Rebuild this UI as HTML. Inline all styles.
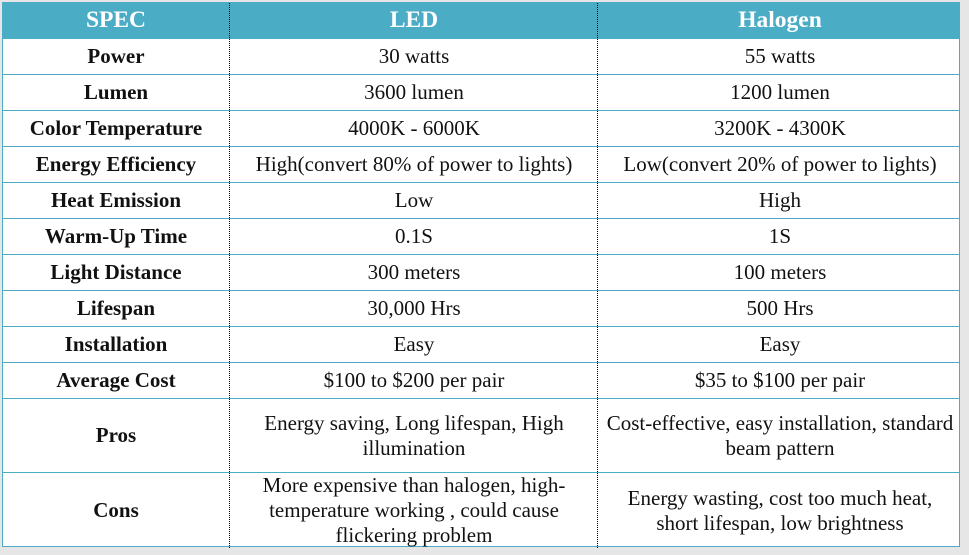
<!DOCTYPE html>
<html><head><style>
body{margin:0;width:969px;height:555px;background:#e6e6e6;position:relative;overflow:hidden;font-family:"Liberation Serif",serif;}
#t{position:absolute;left:2px;top:2px;width:958px;height:545px;background:#fff;border:1px solid #4bacc6;box-sizing:border-box;}
.r{position:absolute;left:0;width:100%;border-bottom:1.5px solid #4bacc6;box-sizing:border-box;}
.c{position:absolute;top:0;height:100%;display:flex;align-items:center;justify-content:center;text-align:center;font-size:21px;color:#111;line-height:25px;white-space:nowrap;}
.a{left:0;width:226px;font-weight:bold;}
.b{left:226px;width:368px;border-left:1.5px dotted #000;}
.d{left:594px;width:364px;border-left:1.5px dotted #000;}
.h{background:#4bacc6;}
.h .c{color:#fff;font-weight:bold;font-size:23.5px;}
</style></head><body>
<div id="t">
<div class="r h" style="top:0;height:36px"><div class="c a">SPEC</div><div class="c b">LED</div><div class="c d">Halogen</div></div>
<div class="r" style="top:36px;height:36px"><div class="c a">Power</div><div class="c b">30 watts</div><div class="c d">55 watts</div></div>
<div class="r" style="top:72px;height:36px"><div class="c a">Lumen</div><div class="c b">3600 lumen</div><div class="c d">1200 lumen</div></div>
<div class="r" style="top:108px;height:36px"><div class="c a">Color Temperature</div><div class="c b">4000K - 6000K</div><div class="c d">3200K - 4300K</div></div>
<div class="r" style="top:144px;height:36px"><div class="c a">Energy Efficiency</div><div class="c b">High(convert 80% of power to lights)</div><div class="c d">Low(convert 20% of power to lights)</div></div>
<div class="r" style="top:180px;height:36px"><div class="c a">Heat Emission</div><div class="c b">Low</div><div class="c d">High</div></div>
<div class="r" style="top:216px;height:36px"><div class="c a">Warm-Up Time</div><div class="c b">0.1S</div><div class="c d">1S</div></div>
<div class="r" style="top:252px;height:36px"><div class="c a">Light Distance</div><div class="c b">300 meters</div><div class="c d">100 meters</div></div>
<div class="r" style="top:288px;height:36px"><div class="c a">Lifespan</div><div class="c b">30,000 Hrs</div><div class="c d">500 Hrs</div></div>
<div class="r" style="top:324px;height:36px"><div class="c a">Installation</div><div class="c b">Easy</div><div class="c d">Easy</div></div>
<div class="r" style="top:360px;height:36px"><div class="c a">Average Cost</div><div class="c b">$100 to $200 per pair</div><div class="c d">$35 to $100 per pair</div></div>
<div class="r" style="top:396px;height:74px"><div class="c a">Pros</div><div class="c b">Energy saving, Long lifespan, High<br>illumination</div><div class="c d">Cost-effective, easy installation, standard<br>beam pattern</div></div>
<div class="r" style="top:470px;height:75px;border-bottom:none"><div class="c a">Cons</div><div class="c b">More expensive than halogen, high-<br>temperature working , could cause<br>flickering problem</div><div class="c d">Energy wasting, cost too much heat,<br>short lifespan, low brightness</div></div>
</div>
</body></html>
